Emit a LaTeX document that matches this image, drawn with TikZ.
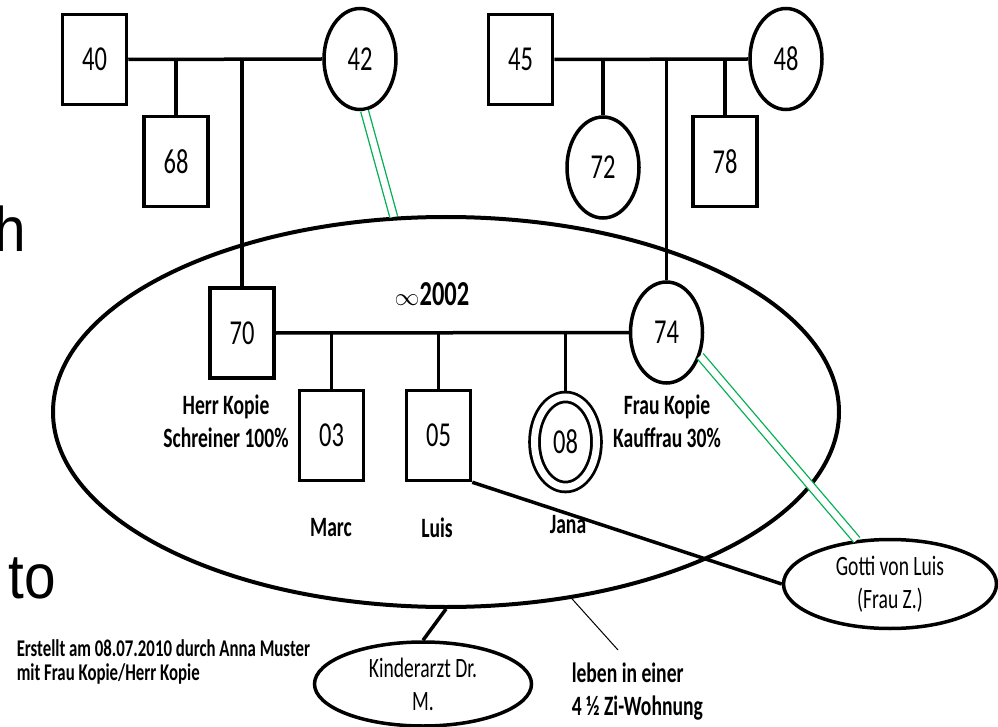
\documentclass[tikz,border=0pt]{standalone}
\usepackage{fontspec}
\setmainfont{Carlito}[FakeStretch=0.7]
\newfontfamily\slidefont{Liberation Sans}[FakeStretch=0.9]
\usetikzlibrary{shapes.geometric}
\definecolor{tiegreen}{RGB}{0,176,80}

\tikzset{
  male/.style={draw, rectangle, line width=3.5pt, minimum width=64pt, minimum height=90pt, inner sep=0pt, font=\fontsize{35}{40}\selectfont},
  female/.style={draw, ellipse, line width=3.5pt, minimum width=72pt, minimum height=101pt, inner sep=0pt, font=\fontsize{35}{40}\selectfont},
  contact/.style={draw, ellipse, line width=3.5pt, align=center, inner sep=0pt, font=\fontsize{28}{33}\selectfont},
  tag/.style={align=center, inner sep=0pt, font=\bfseries\fontsize{28}{33}\selectfont},
  bond/.style={draw=tiegreen, line width=1.3pt, double=white, double distance=6.5pt},
}

\begin{document}
\begin{tikzpicture}[x=1pt, y=-1pt, line width=3.5pt]
\useasboundingbox (0,0) rectangle (998,727);
\clip (0,0) rectangle (998,727);

% household
\node[draw, ellipse, line width=4pt, minimum width=786pt, minimum height=390pt] (household) at (446,412) {};

% grandparents
\node[male] (p40) at (94.5,59.5) {40};
\node[female] (p42) at (360,59) {42};
\node[male] (p68) at (176,161.5) {68};
\node[male] (p45) at (520.5,59.5) {45};
\node[female] (p48) at (786,59) {48};
\node[female] (p72) at (603,167.5) {72};
\node[male] (p78) at (725,161.5) {78};

% parents and children
\node[male] (p70) at (242,333) {70};
\node[female] (p74) at (666.5,332.5) {74};
\node[male] (p03) at (331.5,435.5) {03};
\node[male] (p05) at (438.5,435.5) {05};
\node[female, double, double distance=7pt, line width=2.8pt, minimum width=62pt, minimum height=90pt] (p08) at (565.5,442) {08};

\draw (p40.east) -- (p42.west);
\draw (p68.north) -- (p68.north |- p40.east);
\draw (p70.north) -- (p70.north |- p40.east);
\draw (p45.east) -- (p48.west);
\draw (p72.north) -- (p72.north |- p45.east);
\draw (p74.north) -- (p74.north |- p45.east);
\draw (p78.north) -- (p78.north |- p45.east);
\draw (p70.east) -- (p74.west);
\draw (p03.north) -- (p03.north |- p70.east);
\draw (p05.north) -- (p05.north |- p70.east);
\draw ([yshift=5pt]p08.north) -- (p08.north |- p70.east);

\node[font=\bfseries\fontsize{35}{40}\selectfont] (wed) at (432,294) {$\infty$2002};

\node[tag] (n70) at (226,421) {Herr Kopie\\Schreiner 100\%};
\node[tag] (n74) at (667,421) {Frau Kopie\\Kauffrau 30\%};
\node[tag] (n03) at (331,528) {Marc};
\node[tag] (n05) at (437,528) {Luis};
\node[tag] (n08) at (568,525) {Jana};

% outside contacts
\node[contact, minimum width=213pt, minimum height=89pt] (gotti) at (890,584) {Gotti von Luis\\(Frau Z.)};
\node[contact, minimum width=217pt, minimum height=84pt] (arzt) at (423,684) {Kinderarzt Dr.\\M.};

\draw (p05.south east) -- (gotti.west);
\draw (household.south) -- (arzt.north);
\draw[bond] (p42.-85) -- (household.105);
\draw[bond] (p74.-35) -- (gotti.127);

\coordinate (flat) at (618,650);
\draw[line width=1pt] (household.-56) -- (flat);
\node[tag, align=left, anchor=west] (wohnung) at (570,692) {leben in einer\\4 ½ Zi-Wohnung};

\node[tag, align=left, anchor=west, font=\bfseries\fontsize{24}{24}\selectfont] (erstellt) at (15,662) {Erstellt am 08.07.2010 durch Anna Muster\\mit Frau Kopie/Herr Kopie};

% cut-off slide text
\node[inner sep=0pt, anchor=base east, font=\slidefont\fontsize{63}{70}\selectfont] (hbit) at (28,252) {h};
\node[inner sep=0pt, anchor=base west, font=\slidefont\fontsize{63}{70}\selectfont] (tobit) at (7,598) {to};
\end{tikzpicture}
\end{document}
